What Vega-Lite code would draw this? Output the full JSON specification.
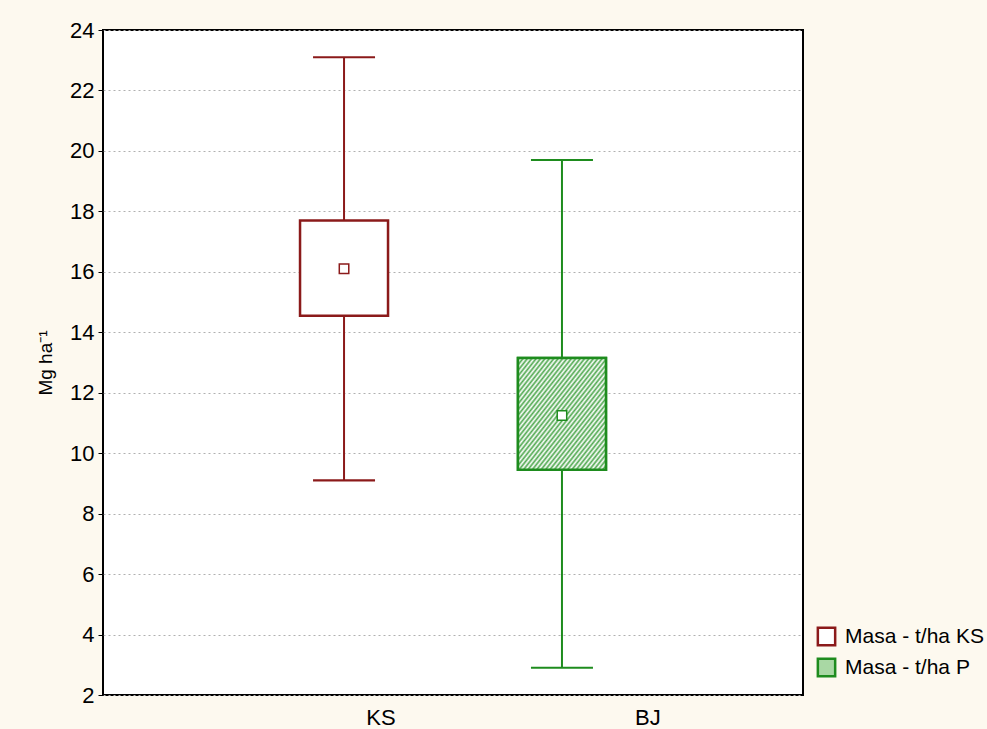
{
  "$schema": "https://vega.github.io/schema/vega-lite/v6.json",
  "autosize": "none",
  "width": 700,
  "height": 665,
  "padding": {"left": 103, "top": 30, "right": 184, "bottom": 34},
  "background": "#fdf9ef",
  "config": {
    "view": {"stroke": "#000000", "strokeWidth": 2, "fill": "#ffffff"},
    "font": "Liberation Sans",
    "axis": {"labelFontSize": 22, "labelColor": "#000000", "titleFontSize": 19, "titleFontWeight": "normal", "titleColor": "#000000"},
    "legend": {"labelFontSize": 21, "labelColor": "#000000"}
  },
  "data": {
    "values": [
      {"grp": "KS", "series": "Masa - t/ha KS", "mean": 16.1, "q1": 14.55, "q3": 17.7, "lo": 9.1, "hi": 23.1},
      {"grp": "BJ", "series": "Masa - t/ha P", "mean": 11.25, "q1": 9.45, "q3": 13.15, "lo": 2.9, "hi": 19.7}
    ]
  },
  "encoding": {
    "x": {
      "field": "grp", "type": "nominal",
      "scale": {"type": "band", "domain": ["KS", "BJ"], "paddingInner": 0, "paddingOuter": 0.606},
      "axis": null
    },
    "stroke": {
      "field": "series", "type": "nominal",
      "scale": {"domain": ["Masa - t/ha KS", "Masa - t/ha P"], "range": ["#8b1a1a", "#1e8c1e"]},
      "legend": {
        "title": null, "orient": "none", "legendX": 713, "legendY": 596,
        "symbolType": "square", "symbolSize": 300, "symbolStrokeWidth": 2.5,
        "labelFontSize": 21, "rowPadding": 2, "labelOffset": 8, "labelLimit": 300
      }
    }
  },
  "layer": [
    {
      "mark": {"type": "rule", "strokeWidth": 2, "opacity": 1},
      "encoding": {
        "y": {
          "field": "lo", "type": "quantitative",
          "scale": {"domain": [2, 24], "nice": false, "zero": false},
          "axis": {
            "title": "Mg ha⁻¹", "titlePadding": 14,
            "values": [2, 4, 6, 8, 10, 12, 14, 16, 18, 20, 22, 24],
            "labelFontSize": 22, "labelPadding": 4,
            "tickColor": "#000", "tickSize": 5, "domain": false,
            "grid": true, "gridColor": "#b0b0b0", "gridDash": [2, 3], "gridWidth": 1
          }
        },
        "y2": {"field": "hi"}
      }
    },
    {
      "mark": {"type": "tick", "orient": "horizontal", "size": 60, "thickness": 0.1, "filled": false, "strokeWidth": 2, "opacity": 1},
      "encoding": {
        "y": {"field": "lo", "type": "quantitative"}
      }
    },
    {
      "mark": {"type": "tick", "orient": "horizontal", "size": 60, "thickness": 0.1, "filled": false, "strokeWidth": 2, "opacity": 1},
      "encoding": {
        "y": {"field": "hi", "type": "quantitative"}
      }
    },
    {
      "mark": {"type": "bar", "size": 88, "strokeWidth": 2.5, "opacity": 1},
      "encoding": {
        "y": {"field": "q1", "type": "quantitative"},
        "y2": {"field": "q3"},
        "fill": {
          "field": "series", "type": "nominal",
          "scale": {"domain": ["Masa - t/ha KS", "Masa - t/ha P"], "range": ["#ffffff", "#a9d8a4"]},
          "legend": {
            "title": null, "orient": "none", "legendX": 713, "legendY": 596,
            "symbolType": "square", "symbolSize": 300, "symbolStrokeWidth": 2.5,
            "labelFontSize": 21, "rowPadding": 2, "labelOffset": 8, "labelLimit": 300
          }
        }
      }
    },
    {
      "transform": [{"filter": "datum.grp == 'BJ'"}],
      "mark": {
        "type": "bar", "size": 88, "strokeWidth": 2.5, "opacity": 1,
        "fill": {
          "gradient": "linear", "x1": 0, "y1": 0, "x2": 1, "y2": 1,
          "stops": [
            {"offset": 0.006, "color": "#4fa84f"}, {"offset": 0.0185, "color": "#ffffff"},
            {"offset": 0.031, "color": "#4fa84f"}, {"offset": 0.0435, "color": "#ffffff"},
            {"offset": 0.056, "color": "#4fa84f"}, {"offset": 0.0685, "color": "#ffffff"},
            {"offset": 0.081, "color": "#4fa84f"}, {"offset": 0.0935, "color": "#ffffff"},
            {"offset": 0.106, "color": "#4fa84f"}, {"offset": 0.1185, "color": "#ffffff"},
            {"offset": 0.131, "color": "#4fa84f"}, {"offset": 0.1435, "color": "#ffffff"},
            {"offset": 0.156, "color": "#4fa84f"}, {"offset": 0.1685, "color": "#ffffff"},
            {"offset": 0.181, "color": "#4fa84f"}, {"offset": 0.1935, "color": "#ffffff"},
            {"offset": 0.206, "color": "#4fa84f"}, {"offset": 0.2185, "color": "#ffffff"},
            {"offset": 0.231, "color": "#4fa84f"}, {"offset": 0.2435, "color": "#ffffff"},
            {"offset": 0.256, "color": "#4fa84f"}, {"offset": 0.2685, "color": "#ffffff"},
            {"offset": 0.281, "color": "#4fa84f"}, {"offset": 0.2935, "color": "#ffffff"},
            {"offset": 0.306, "color": "#4fa84f"}, {"offset": 0.3185, "color": "#ffffff"},
            {"offset": 0.331, "color": "#4fa84f"}, {"offset": 0.3435, "color": "#ffffff"},
            {"offset": 0.356, "color": "#4fa84f"}, {"offset": 0.3685, "color": "#ffffff"},
            {"offset": 0.381, "color": "#4fa84f"}, {"offset": 0.3935, "color": "#ffffff"},
            {"offset": 0.406, "color": "#4fa84f"}, {"offset": 0.4185, "color": "#ffffff"},
            {"offset": 0.431, "color": "#4fa84f"}, {"offset": 0.4435, "color": "#ffffff"},
            {"offset": 0.456, "color": "#4fa84f"}, {"offset": 0.4685, "color": "#ffffff"},
            {"offset": 0.481, "color": "#4fa84f"}, {"offset": 0.4935, "color": "#ffffff"},
            {"offset": 0.506, "color": "#4fa84f"}, {"offset": 0.5185, "color": "#ffffff"},
            {"offset": 0.531, "color": "#4fa84f"}, {"offset": 0.5435, "color": "#ffffff"},
            {"offset": 0.556, "color": "#4fa84f"}, {"offset": 0.5685, "color": "#ffffff"},
            {"offset": 0.581, "color": "#4fa84f"}, {"offset": 0.5935, "color": "#ffffff"},
            {"offset": 0.606, "color": "#4fa84f"}, {"offset": 0.6185, "color": "#ffffff"},
            {"offset": 0.631, "color": "#4fa84f"}, {"offset": 0.6435, "color": "#ffffff"},
            {"offset": 0.656, "color": "#4fa84f"}, {"offset": 0.6685, "color": "#ffffff"},
            {"offset": 0.681, "color": "#4fa84f"}, {"offset": 0.6935, "color": "#ffffff"},
            {"offset": 0.706, "color": "#4fa84f"}, {"offset": 0.7185, "color": "#ffffff"},
            {"offset": 0.731, "color": "#4fa84f"}, {"offset": 0.7435, "color": "#ffffff"},
            {"offset": 0.756, "color": "#4fa84f"}, {"offset": 0.7685, "color": "#ffffff"},
            {"offset": 0.781, "color": "#4fa84f"}, {"offset": 0.7935, "color": "#ffffff"},
            {"offset": 0.806, "color": "#4fa84f"}, {"offset": 0.8185, "color": "#ffffff"},
            {"offset": 0.831, "color": "#4fa84f"}, {"offset": 0.8435, "color": "#ffffff"},
            {"offset": 0.856, "color": "#4fa84f"}, {"offset": 0.8685, "color": "#ffffff"},
            {"offset": 0.881, "color": "#4fa84f"}, {"offset": 0.8935, "color": "#ffffff"},
            {"offset": 0.906, "color": "#4fa84f"}, {"offset": 0.9185, "color": "#ffffff"},
            {"offset": 0.931, "color": "#4fa84f"}, {"offset": 0.9435, "color": "#ffffff"},
            {"offset": 0.956, "color": "#4fa84f"}, {"offset": 0.9685, "color": "#ffffff"},
            {"offset": 0.981, "color": "#4fa84f"}, {"offset": 0.9935, "color": "#ffffff"}
          ]
        }
      },
      "encoding": {
        "y": {"field": "q1", "type": "quantitative"},
        "y2": {"field": "q3"}
      }
    },
    {
      "mark": {"type": "point", "shape": "square", "size": 90, "filled": false, "fill": "#ffffff", "fillOpacity": 1, "strokeWidth": 1.5, "opacity": 1},
      "encoding": {
        "y": {"field": "mean", "type": "quantitative"}
      }
    },
    {
      "mark": {"type": "point", "opacity": 0},
      "encoding": {
        "x": {
          "field": "grp", "type": "nominal",
          "scale": {"type": "band", "domain": ["KS", "BJ"], "paddingInner": 0, "paddingOuter": 0.3109, "align": 0.87},
          "axis": {"title": null, "orient": "bottom", "labelAngle": 0, "ticks": false, "domain": false, "labelFontSize": 22, "labelPadding": 12}
        },
        "y": {"field": "mean", "type": "quantitative"}
      }
    }
  ],
  "resolve": {"scale": {"x": "independent"}, "axis": {"x": "independent"}}
}
